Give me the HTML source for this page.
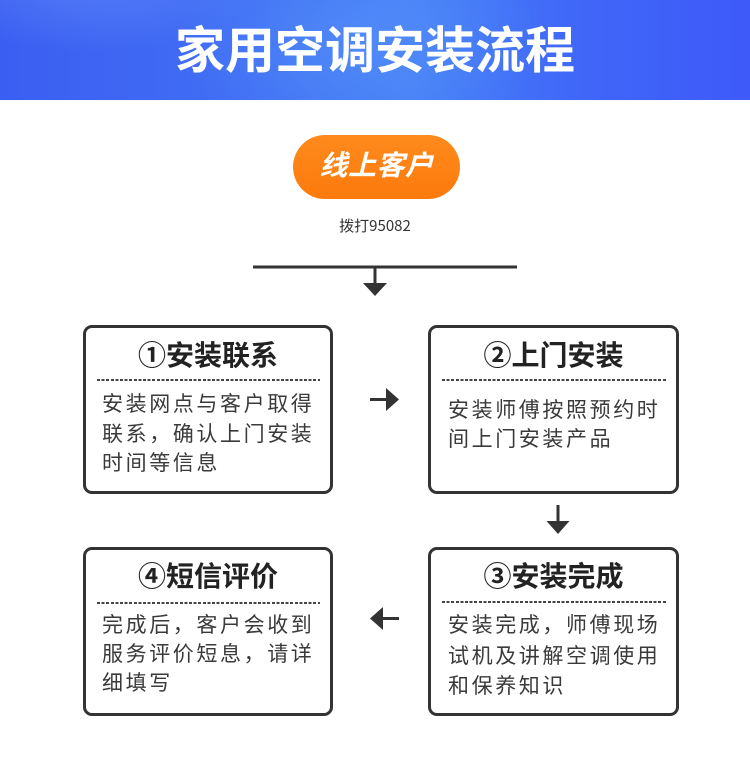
<!DOCTYPE html>
<html>
<head>
<meta charset="utf-8">
<style>
  html,body{margin:0;padding:0;}
  body{width:750px;height:782px;position:relative;background:#fff;overflow:hidden;
    font-family:"Liberation Sans","Noto Sans CJK SC",sans-serif;}
  .hdr{position:absolute;left:0;top:0;width:750px;height:100px;
    background:
      radial-gradient(ellipse 260px 160px at 360px 40px, rgba(90,150,250,0.55), rgba(90,150,250,0) 70%),
      radial-gradient(ellipse 220px 90px at 90px -20px, rgba(110,150,250,0.45), rgba(110,150,250,0) 80%),
      linear-gradient(90deg,#3b5ef2 0%,#4170f4 35%,#4680f6 55%,#4066f8 78%,#3e5af9 100%);}
  .title{position:absolute;left:0;top:26px;width:750px;height:50px;line-height:50px;
    text-align:center;color:#fff;font-size:50px;font-weight:bold;letter-spacing:0px;}
  .pill{position:absolute;left:293px;top:135px;width:167px;height:64px;border-radius:32px;
    background:linear-gradient(180deg,#ff8a1c,#fc7a0c);}
  .pill span{position:absolute;left:0;top:0;width:167px;height:64px;line-height:62px;text-align:center;
    color:#fff;font-size:28px;font-weight:bold;font-style:italic;letter-spacing:0.5px;}
  .call{position:absolute;left:0;width:750px;top:216px;line-height:20px;text-align:center;
    font-size:15px;color:#333;font-family:"Noto Sans CJK SC","Liberation Sans",sans-serif;}
  .box{position:absolute;width:244px;height:163px;border:3px solid #333;border-radius:9px;background:#fff;}
  .bt{position:absolute;left:0;width:100%;text-align:center;font-size:28px;font-weight:bold;color:#222;
    height:36px;line-height:36px;}
  .dash{position:absolute;height:2px;
    background:repeating-linear-gradient(90deg,#444 0 3px,transparent 3px 4.6px);}
  .bd{position:absolute;font-size:21px;color:#3a3a3a;letter-spacing:2.6px;white-space:nowrap;}
</style>
</head>
<body>
<div class="hdr"></div>
<div class="title">家用空调安装流程</div>

<div class="pill"><span>线上客户</span></div>
<div class="call">拨打95082</div>

<!-- Box 1 -->
<div class="box" style="left:83px;top:325px;">
  <div class="bt" style="top:10px;">①安装联系</div>
  <div class="dash" style="left:11px;top:51px;width:223px;"></div>
  <div class="bd" style="left:16px;top:62px;line-height:29.5px;">安装网点与客户取得<br>联系，确认上门安装<br>时间等信息</div>
</div>

<!-- Box 2 -->
<div class="box" style="left:428px;top:325px;width:245px;">
  <div class="bt" style="top:10px;">②上门安装</div>
  <div class="dash" style="left:11px;top:51px;width:225px;"></div>
  <div class="bd" style="left:17px;top:68px;line-height:29px;">安装师傅按照预约时<br>间上门安装产品</div>
</div>

<!-- Box 3 -->
<div class="box" style="left:428px;top:547px;width:245px;">
  <div class="bt" style="top:9px;">③安装完成</div>
  <div class="dash" style="left:11px;top:51px;width:225px;"></div>
  <div class="bd" style="left:17px;top:61px;line-height:30.5px;">安装完成，师傅现场<br>试机及讲解空调使用<br>和保养知识</div>
</div>

<!-- Box 4 -->
<div class="box" style="left:83px;top:547px;">
  <div class="bt" style="top:9px;">④短信评价</div>
  <div class="dash" style="left:11px;top:52px;width:223px;"></div>
  <div class="bd" style="left:16px;top:61px;line-height:29px;">完成后，客户会收到<br>服务评价短息，请详<br>细填写</div>
</div>

<svg width="750" height="782" style="position:absolute;left:0;top:0;" xmlns="http://www.w3.org/2000/svg">
  <!-- top connector -->
  <line x1="253" y1="267" x2="517" y2="267" stroke="#333" stroke-width="3"/>
  <line x1="375" y1="267" x2="375" y2="285" stroke="#333" stroke-width="3"/>
  <polygon points="363,283 387,283 375,296" fill="#333"/>
  <!-- right arrow 1 -> 2 -->
  <line x1="370" y1="399.5" x2="389" y2="399.5" stroke="#333" stroke-width="3"/>
  <polygon points="386,388 386,411 399,399.5" fill="#333"/>
  <!-- down arrow 2 -> 3 -->
  <line x1="558" y1="505" x2="558" y2="524" stroke="#333" stroke-width="3"/>
  <polygon points="546.5,521 569.5,521 558,534" fill="#333"/>
  <!-- left arrow 3 -> 4 -->
  <line x1="381" y1="618.5" x2="399" y2="618.5" stroke="#333" stroke-width="3"/>
  <polygon points="383,607 383,630 370,618.5" fill="#333"/>
</svg>
</body>
</html>
